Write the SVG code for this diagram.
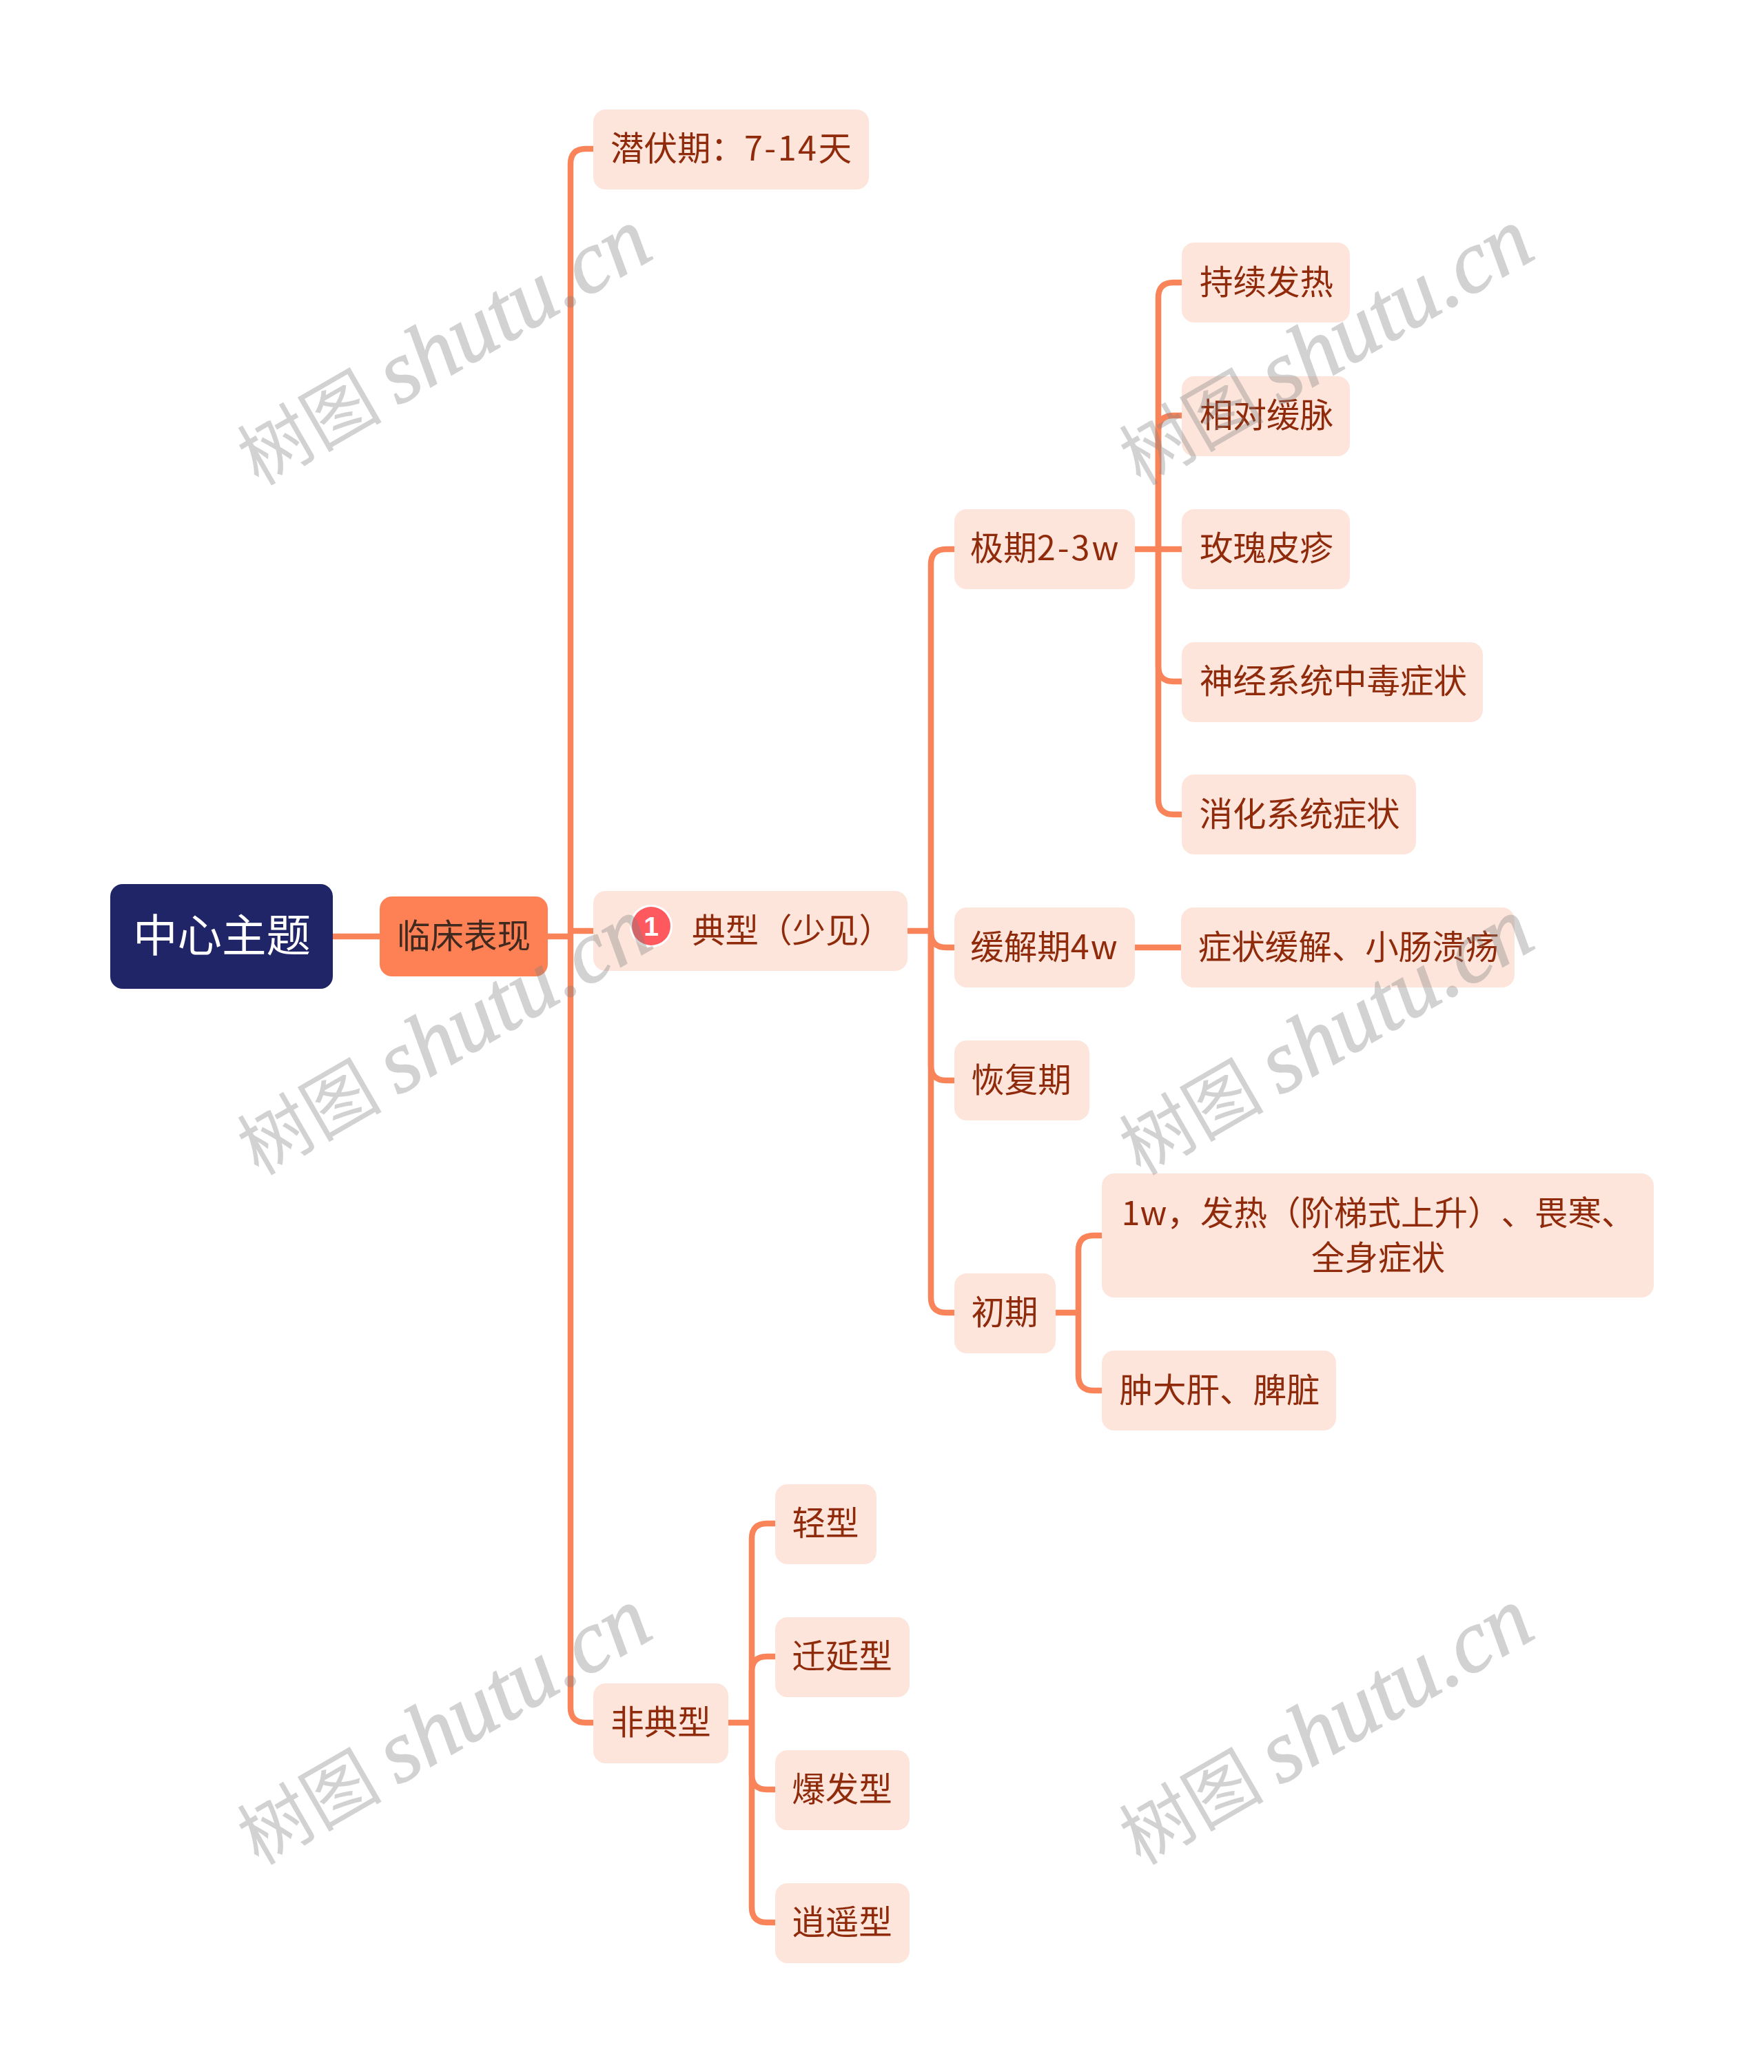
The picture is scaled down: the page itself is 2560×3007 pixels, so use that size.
<svg xmlns="http://www.w3.org/2000/svg" width="2560" height="3007" viewBox="0 0 2560 3007">
<style>
text{font-family:"Noto Sans CJK SC","Noto Sans",sans-serif;font-size:48.5px;fill:#8f2a0b;text-anchor:middle;text-spacing-trim:space-all}
.n rect{fill:#fde5dc}
.l{fill:none;stroke:#f9845a;stroke-width:8.5}
.wm{font-size:105px;fill:#808080;opacity:.35;text-anchor:start}
.wm tspan{font-family:"Liberation Serif",serif;font-style:italic;font-size:129px;stroke:#808080;stroke-width:1.5}
</style>
<rect width="2560" height="3007" fill="#fff"/>
<g id="connectors" class="l">
<path d="M483 1359H551M795 1359H828"/>
<path d="M828 1359V238Q828 216 850 216H862"/>
<path d="M828 1351H862"/>
<path d="M828 1359V2478Q828 2500 850 2500H862"/>
<path d="M1317 1351H1351"/>
<path d="M1351 1351V819Q1351 797 1373 797H1385"/>
<path d="M1351 1351V1353Q1351 1375 1373 1375H1385"/>
<path d="M1351 1351V1546Q1351 1568 1373 1568H1385"/>
<path d="M1351 1351V1883Q1351 1905 1373 1905H1385"/>
<path d="M1647 797H1715"/>
<path d="M1681 797V432Q1681 410 1703 410H1715"/>
<path d="M1681 797V625Q1681 603 1703 603H1715"/>
<path d="M1681 797V967Q1681 989 1703 989H1715"/>
<path d="M1681 797V1160Q1681 1182 1703 1182H1715"/>
<path d="M1645 1375H1714"/>
<path d="M1532 1905H1565"/>
<path d="M1565 1905V1815Q1565 1793 1587 1793H1599"/>
<path d="M1565 1905V1996Q1565 2018 1587 2018H1599"/>
<path d="M1057 2500H1091"/>
<path d="M1091 2500V2233Q1091 2211 1113 2211H1125"/>
<path d="M1091 2500V2426Q1091 2404 1113 2404H1125"/>
<path d="M1091 2500V2575Q1091 2597 1113 2597H1125"/>
<path d="M1091 2500V2768Q1091 2790 1113 2790H1125"/>
</g>
<g id="root"><rect x="160" y="1283" width="323" height="152" rx="18" fill="#1f2566"/><text x="322" y="1381" style="font-size:64.5px;fill:#fff">中心主题</text></g>
<g id="branch"><rect x="551" y="1301" width="244" height="116" rx="18" fill="#fd8155"/><text x="673" y="1376" style="fill:#40291e">临床表现</text></g>
<g id="n1" class="n"><rect x="861" y="159" width="400" height="116" rx="18"/><text x="1061" y="233">潜伏期：<tspan letter-spacing="2.5">7-14</tspan>天</text></g>
<g id="n2" class="n"><rect x="861" y="1293" width="456" height="116" rx="18"/><circle cx="945" cy="1344" r="31" fill="#fff"/><circle cx="945" cy="1344" r="28" fill="#fe595f"/><text x="945" y="1358" style="font-size:39px;fill:#fff;font-family:'Liberation Sans',sans-serif;font-weight:bold">1</text><text x="1004" y="1368" style="text-anchor:start">典型（少见）</text></g>
<g id="n3" class="n"><rect x="861" y="2443" width="196" height="116" rx="18"/><text x="959" y="2517">非典型</text></g>
<g id="n4" class="n"><rect x="1385" y="739" width="262" height="116" rx="18"/><text x="1517" y="813">极期<tspan letter-spacing="3">2-3w</tspan></text></g>
<g id="n5" class="n"><rect x="1385" y="1317" width="262" height="116" rx="18"/><text x="1516" y="1392">缓解期<tspan letter-spacing="2">4w</tspan></text></g>
<g id="n6" class="n"><rect x="1385" y="1510" width="196" height="116" rx="18"/><text x="1482" y="1585">恢复期</text></g>
<g id="n7" class="n"><rect x="1385" y="1848" width="147" height="116" rx="18"/><text x="1458" y="1922">初期</text></g>
<g id="n8" class="n"><rect x="1715" y="352" width="244" height="116" rx="18"/><text x="1838" y="427">持续发热</text></g>
<g id="n9" class="n"><rect x="1715" y="546" width="244" height="116" rx="18"/><text x="1838" y="620">相对缓脉</text></g>
<g id="n10" class="n"><rect x="1715" y="739" width="244" height="116" rx="18"/><text x="1838" y="813">玫瑰皮疹</text></g>
<g id="n11" class="n"><rect x="1715" y="932" width="437" height="116" rx="18"/><text x="1935" y="1006">神经系统中毒症状</text></g>
<g id="n12" class="n"><rect x="1715" y="1124" width="340" height="116" rx="18"/><text x="1886" y="1199">消化系统症状</text></g>
<g id="n13" class="n"><rect x="1714" y="1317" width="484" height="116" rx="18"/><text x="1957" y="1392">症状缓解、小肠溃疡</text></g>
<g id="n14" class="n"><rect x="1599" y="1703" width="801" height="180" rx="18"/><text x="2000" y="1778">1w，发热（阶梯式上升）、畏寒、</text><text x="2000" y="1843">全身症状</text></g>
<g id="n15" class="n"><rect x="1599" y="1960" width="340" height="116" rx="18"/><text x="1770" y="2035">肿大肝、脾脏</text></g>
<g id="n16" class="n"><rect x="1125" y="2154" width="147" height="116" rx="18"/><text x="1198" y="2228">轻型</text></g>
<g id="n17" class="n"><rect x="1125" y="2347" width="195" height="116" rx="18"/><text x="1222" y="2421">迁延型</text></g>
<g id="n18" class="n"><rect x="1125" y="2540" width="195" height="116" rx="18"/><text x="1222" y="2614">爆发型</text></g>
<g id="n19" class="n"><rect x="1125" y="2733" width="195" height="116" rx="18"/><text x="1222" y="2807">逍遥型</text></g>
<g id="watermarks">
<text class="wm" transform="translate(375 706) rotate(-30)">树图 <tspan>shutu.cn</tspan></text>
<text class="wm" transform="translate(1655 706) rotate(-30)">树图 <tspan>shutu.cn</tspan></text>
<text class="wm" transform="translate(375 1707) rotate(-30)">树图 <tspan>shutu.cn</tspan></text>
<text class="wm" transform="translate(1655 1707) rotate(-30)">树图 <tspan>shutu.cn</tspan></text>
<text class="wm" transform="translate(375 2708) rotate(-30)">树图 <tspan>shutu.cn</tspan></text>
<text class="wm" transform="translate(1655 2708) rotate(-30)">树图 <tspan>shutu.cn</tspan></text>
</g>
</svg>
